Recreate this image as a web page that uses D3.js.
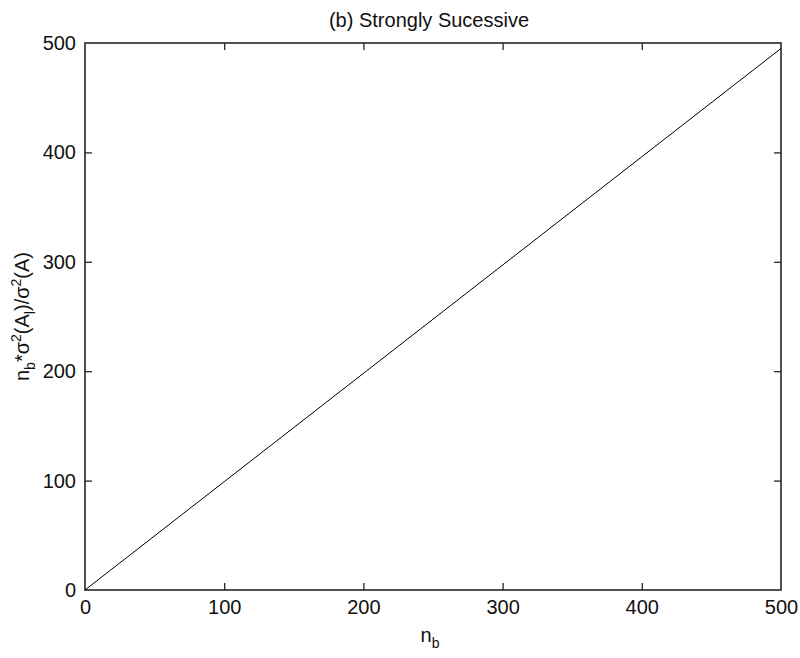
<!DOCTYPE html>
<html>
<head>
<meta charset="utf-8">
<script src="https://cdn.jsdelivr.net/npm/d3@7"></script>
<style>
  html, body { margin: 0; padding: 0; background: #fff; }
  svg { display: block; font-family: "Liberation Sans", Arial, sans-serif; }
</style>
</head>
<body>
<svg id="chart" width="800" height="658"></svg>
<script>
// ---- data ----
const nb = [0, 100, 200, 300, 400, 500];
const ratio = [0, 99, 198, 297, 396, 495];
const xTicks = [0, 100, 200, 300, 400, 500];
const yTicks = [0, 100, 200, 300, 400, 500];
const titleText = "(b) Strongly Sucessive";

(function () {
const svg = d3.select("#chart");
const pL = 85, pR = 781, pT = 43, pB = 590;

const x = d3.scaleLinear().domain([0, 500]).range([pL, pR]);
const y = d3.scaleLinear().domain([0, 500]).range([pB, pT]);

const fs = 20;
const axisColor = "#262626";

// frame
svg.append("rect")
  .attr("x", pL).attr("y", pT)
  .attr("width", pR - pL).attr("height", pB - pT)
  .attr("fill", "#fff").attr("stroke", axisColor).attr("stroke-width", 1.6);

function styleAxis(g) {
  g.select(".domain").remove();
  g.selectAll(".tick line").attr("stroke", axisColor).attr("stroke-width", 1.3);
  g.selectAll(".tick text").attr("fill", "#111").attr("font-size", fs)
   .attr("font-family", "Liberation Sans, Arial, sans-serif");
}
const gB = svg.append("g").attr("transform", `translate(0,${pB})`)
  .call(d3.axisBottom(x).tickValues(xTicks).tickFormat(d3.format("d")).tickSizeInner(-7).tickSizeOuter(0).tickPadding(10));
styleAxis(gB);
const gT = svg.append("g").attr("transform", `translate(0,${pT})`)
  .call(d3.axisTop(x).tickValues(xTicks).tickFormat("").tickSizeInner(-7).tickSizeOuter(0));
styleAxis(gT);
const gL = svg.append("g").attr("transform", `translate(${pL},0)`)
  .call(d3.axisLeft(y).tickValues(yTicks).tickFormat(d3.format("d")).tickSizeInner(-7).tickSizeOuter(0).tickPadding(9));
styleAxis(gL);
const gR = svg.append("g").attr("transform", `translate(${pR},0)`)
  .call(d3.axisRight(y).tickValues(yTicks).tickFormat("").tickSizeInner(-7).tickSizeOuter(0));
styleAxis(gR);

[gB, gT, gL, gR].forEach(g => g.selectAll(".tick line").filter(d => d === 0 || d === 500).remove());

// data line
const pts = nb.map((v, i) => [v, ratio[i]]);
svg.append("path").datum(pts)
  .attr("fill", "none").attr("stroke", "#000").attr("stroke-width", 1)
  .attr("d", d3.line().x(d => x(d[0])).y(d => y(d[1])));

// title
svg.append("text").attr("x", 429).attr("y", 27)
  .attr("text-anchor", "middle").attr("font-size", fs).attr("fill", "#111")
  .text(titleText);

// x label n_b
const xl = svg.append("text").attr("x", 430).attr("y", 642)
  .attr("text-anchor", "middle").attr("font-size", fs).attr("fill", "#111");
xl.append("tspan").text("n");
xl.append("tspan").attr("dy", 6).attr("font-size", 14).text("b");

// y label
const yl = svg.append("text")
  .attr("transform", `translate(29,${(pT + pB) / 2}) rotate(-90)`)
  .attr("text-anchor", "middle").attr("font-size", fs).attr("fill", "#111");
const sub = 6, sup = -8, small = 14;
yl.append("tspan").text("n");
yl.append("tspan").attr("dy", sub).attr("font-size", small).text("b");
yl.append("tspan").attr("dy", -sub).text("*σ");
yl.append("tspan").attr("dy", sup).attr("font-size", small).text("2");
yl.append("tspan").attr("dy", -sup).text("(A");
yl.append("tspan").attr("dy", sub).attr("font-size", small).text("l");
yl.append("tspan").attr("dy", -sub).text(")/σ");
yl.append("tspan").attr("dy", sup).attr("font-size", small).text("2");
yl.append("tspan").attr("dy", -sup).text("(A)");
})();
</script>
</body>
</html>
